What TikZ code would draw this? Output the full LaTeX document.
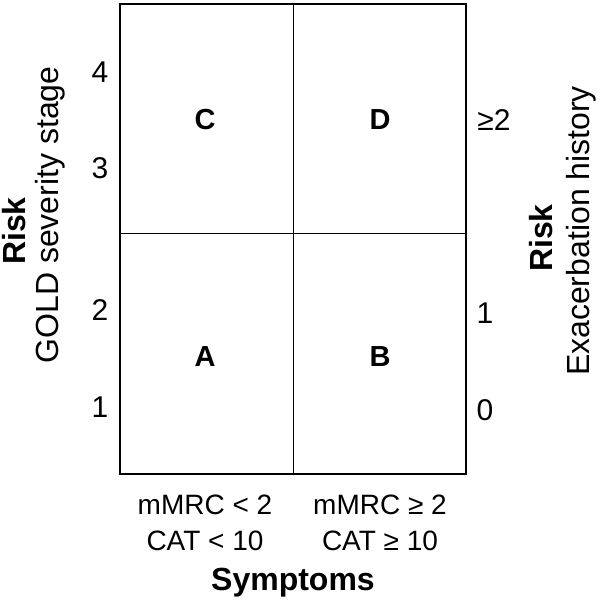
\documentclass[tikz,border=0pt]{standalone}
\usepackage{fontspec}
\setmainfont{Liberation Sans}
\usepackage{tikz}
\usetikzlibrary{positioning}
\tikzset{
  quadbox/.style={draw=black, line width=1.8pt},
  quadline/.style={draw=black, line width=0.8pt},
  quadletter/.style={font=\fontsize{29}{32}\selectfont\bfseries, inner sep=0pt},
  ticklabel/.style={font=\fontsize{30}{34}\selectfont, inner sep=0pt},
  critlabel/.style={font=\fontsize{28}{32}\selectfont, inner sep=0pt},
  axistitle/.style={font=\fontsize{32}{36}\selectfont\bfseries, inner sep=0pt},
  axissub/.style={font=\fontsize{32}{36}\selectfont, inner sep=0pt},
}

\begin{document}
\begin{tikzpicture}[x=1pt, y=1pt]
\useasboundingbox (0,0) rectangle (600,605);

% Quadrant grid
\coordinate (sw) at (120,131);
\coordinate (ne) at (466,601);
\coordinate (mid) at (293,372);
\draw[quadline] (mid |- sw) -- (mid |- ne);
\draw[quadline] (sw |- mid) -- (ne |- mid);
\draw[quadbox] (sw) rectangle (ne);

% Quadrant letters
\node[quadletter] (qC) at (205,485) {C};
\node[quadletter] (qD) at (380,485) {D};
\node[quadletter] (qA) at (205,248) {A};
\node[quadletter] (qB) at (380,248) {B};

% Left scale: GOLD stage
\node[ticklabel] (g4) at (100,533) {4};
\node[ticklabel] (g3) at (100,437) {3};
\node[ticklabel] (g2) at (100,295) {2};
\node[ticklabel] (g1) at (100,198) {1};
\node[axistitle, rotate=90] (riskL) at (14,374) {Risk};
\node[axissub, rotate=90] (gold) at (50,390) {GOLD severity stage};

% Right scale: exacerbations
\node[ticklabel] (e2) at (494,485) {≥2};
\node[ticklabel] (e1) at (485,292) {1};
\node[ticklabel] (e0) at (485,195) {0};
\node[axistitle, rotate=90] (riskR) at (541,367) {Risk};
\node[axissub, rotate=90] (exac) at (581,374) {Exacerbation history};

% Bottom: symptoms
\node[critlabel] (lowA) at (205,100) {mMRC < 2};
\node[critlabel, below=16pt of lowA] (lowB) {CAT < 10};
\node[critlabel] (highA) at (380,100) {mMRC ≥ 2};
\node[critlabel, below=16pt of highA] (highB) {CAT ≥ 10};
\node[axistitle] (symp) at (293,22) {Symptoms};

\end{tikzpicture}
\end{document}
